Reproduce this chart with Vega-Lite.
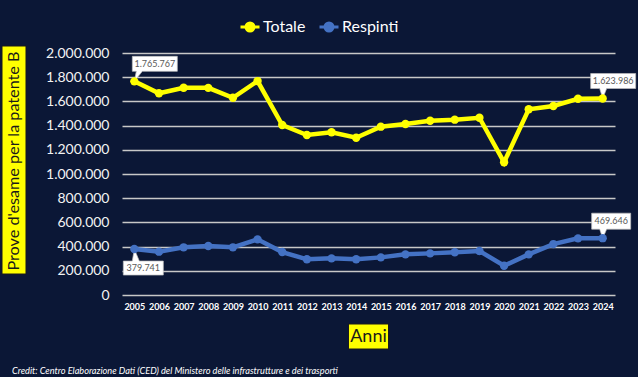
{
  "$schema": "https://vega.github.io/schema/vega-lite/v6.json",
  "background": "#0b1736",
  "padding": {"left": 0, "top": 16, "right": 0, "bottom": 0},
  "config": {
    "locale": {"number": {"decimal": ",", "thousands": ".", "grouping": [3], "currency": ["€", ""]}},
    "view": {"stroke": null},
    "font": "Lato",
    "legend": {"layout": {"top": {"anchor": "middle"}}}
  },
  "datasets": {
    "serie": [
      {"anno": "2005", "serie": "Totale", "valore": 1765767},
      {"anno": "2006", "serie": "Totale", "valore": 1667000},
      {"anno": "2007", "serie": "Totale", "valore": 1713000},
      {"anno": "2008", "serie": "Totale", "valore": 1712000},
      {"anno": "2009", "serie": "Totale", "valore": 1630000},
      {"anno": "2010", "serie": "Totale", "valore": 1768000},
      {"anno": "2011", "serie": "Totale", "valore": 1405000},
      {"anno": "2012", "serie": "Totale", "valore": 1322000},
      {"anno": "2013", "serie": "Totale", "valore": 1345000},
      {"anno": "2014", "serie": "Totale", "valore": 1300000},
      {"anno": "2015", "serie": "Totale", "valore": 1391000},
      {"anno": "2016", "serie": "Totale", "valore": 1413000},
      {"anno": "2017", "serie": "Totale", "valore": 1440000},
      {"anno": "2018", "serie": "Totale", "valore": 1449000},
      {"anno": "2019", "serie": "Totale", "valore": 1465000},
      {"anno": "2020", "serie": "Totale", "valore": 1097000},
      {"anno": "2021", "serie": "Totale", "valore": 1535000},
      {"anno": "2022", "serie": "Totale", "valore": 1562000},
      {"anno": "2023", "serie": "Totale", "valore": 1622000},
      {"anno": "2024", "serie": "Totale", "valore": 1623986},
      {"anno": "2005", "serie": "Respinti", "valore": 379741},
      {"anno": "2006", "serie": "Respinti", "valore": 358000},
      {"anno": "2007", "serie": "Respinti", "valore": 394000},
      {"anno": "2008", "serie": "Respinti", "valore": 405000},
      {"anno": "2009", "serie": "Respinti", "valore": 394000},
      {"anno": "2010", "serie": "Respinti", "valore": 460000},
      {"anno": "2011", "serie": "Respinti", "valore": 355000},
      {"anno": "2012", "serie": "Respinti", "valore": 295000},
      {"anno": "2013", "serie": "Respinti", "valore": 303000},
      {"anno": "2014", "serie": "Respinti", "valore": 295000},
      {"anno": "2015", "serie": "Respinti", "valore": 311000},
      {"anno": "2016", "serie": "Respinti", "valore": 336000},
      {"anno": "2017", "serie": "Respinti", "valore": 344000},
      {"anno": "2018", "serie": "Respinti", "valore": 353000},
      {"anno": "2019", "serie": "Respinti", "valore": 364000},
      {"anno": "2020", "serie": "Respinti", "valore": 242000},
      {"anno": "2021", "serie": "Respinti", "valore": 336000},
      {"anno": "2022", "serie": "Respinti", "valore": 421000},
      {"anno": "2023", "serie": "Respinti", "valore": 468000},
      {"anno": "2024", "serie": "Respinti", "valore": 469646}
    ]
  },
  "title": {
    "text": "Credit: Centro Elaborazione Dati (CED) del Ministero delle infrastrutture e dei trasporti",
    "orient": "bottom",
    "anchor": "start",
    "dx": 12,
    "offset": 16,
    "font": "Lato",
    "fontSize": 9.2,
    "fontStyle": "italic",
    "fontWeight": "normal",
    "color": "#ffffff"
  },
  "columns": 2,
  "align": "each",
  "spacing": {"row": 11, "column": 17},
  "concat": [
    {
      "width": 24,
      "height": 228,
      "data": {"values": [{"titolo": "Prove  d'esame per la patente B"}]},
      "layer": [
        {
          "mark": {"type": "point", "shape": "M-0.0877,-1.0614H0.1228V0.9386H-0.0877Z", "size": 51984, "filled": true, "fill": "#ffff00", "stroke": "#1a1a1a", "strokeWidth": 1, "opacity": 1},
          "encoding": {}
        },
        {
          "mark": {"type": "text", "angle": 270, "dx": 6, "dy": 2, "font": "Lato", "fontSize": 16.2, "color": "#1a1a1a"},
          "encoding": {"text": {"field": "titolo"}}
        }
      ]
    },
    {
      "width": 493,
      "height": 242,
      "data": {"name": "serie"},
      "encoding": {
        "x": {
          "field": "anno",
          "type": "ordinal",
          "scale": {"type": "point", "padding": 0.5},
          "axis": {"title": null, "labelAngle": 0, "labelFontSize": 9, "labelFontWeight": "bold", "labelColor": "#ffffff", "labelFont": "Lato", "domain": false, "ticks": false, "grid": false, "labelPadding": 7}
        },
        "y": {
          "field": "valore",
          "type": "quantitative",
          "scale": {"domain": [0, 2000000]},
          "axis": {
            "title": null,
            "values": [0, 200000, 400000, 600000, 800000, 1000000, 1200000, 1400000, 1600000, 1800000, 2000000],
            "format": ",d",
            "labelFontSize": 14,
            "labelColor": "#f2f2f2",
            "labelFont": "Lato",
            "domain": false,
            "ticks": false,
            "labelPadding": 13,
            "gridColor": "#c8c8c8",
            "gridWidth": 1.5
          }
        }
      },
      "layer": [
        {
          "mark": {"type": "line", "strokeWidth": 4.5},
          "encoding": {
            "color": {
              "field": "serie",
              "type": "nominal",
              "scale": {"domain": ["Totale", "Respinti"], "range": ["#ffff00", "#4472c4"]},
              "legend": {
                "orient": "top",
                "direction": "horizontal",
                "title": null,
                "labelFontSize": 16,
                "labelColor": "#ffffff",
                "labelFont": "Lato",
                "symbolType": "M-1,0H1M0.42,0A0.42,0.42,0,1,1,-0.42,0A0.42,0.42,0,1,1,0.42,0Z",
                "symbolSize": 361,
                "symbolStrokeWidth": 3,
                "columnPadding": 7,
                "labelOffset": 2,
                "offset": 7,
                "encode": {"symbols": {"update": {"fill": {"scale": "color", "field": "value"}, "stroke": {"scale": "color", "field": "value"}}}}
              }
            }
          }
        },
        {
          "transform": [{"filter": "datum.serie == 'Totale' && datum.anno == '2005'"}],
          "mark": {"type": "point", "shape": "M-0.2,-2.5H4.3V-1H0.8L0,0L0.2,-1H-0.2Z", "size": 400, "filled": true, "fill": "#ffffff", "stroke": "#bfbfbf", "strokeWidth": 0.7, "opacity": 1}
        },
        {
          "transform": [{"filter": "datum.serie == 'Totale' && datum.anno == '2024'"}],
          "mark": {"type": "point", "shape": "M-1.2,-2.5H3.3V-1H0.4L0,0L-0.3,-1H-1.2Z", "size": 400, "filled": true, "fill": "#ffffff", "stroke": "#bfbfbf", "strokeWidth": 0.7, "opacity": 1}
        },
        {
          "transform": [{"filter": "datum.serie == 'Respinti' && datum.anno == '2024'"}],
          "mark": {"type": "point", "shape": "M-1.1,-2.5H2.8V-0.9H0.4L0,0L-0.3,-0.9H-1.1Z", "size": 400, "filled": true, "fill": "#ffffff", "stroke": "#bfbfbf", "strokeWidth": 0.7, "opacity": 1}
        },
        {
          "transform": [{"filter": "datum.serie == 'Respinti' && datum.anno == '2005'"}],
          "mark": {"type": "point", "shape": "M-1.1,1.2H-0.2L0,0L0.5,1.2H2.9V2.6H-1.1Z", "size": 400, "filled": true, "fill": "#ffffff", "stroke": "#bfbfbf", "strokeWidth": 0.7, "opacity": 1}
        },
        {
          "mark": {"type": "point", "filled": true, "size": 70, "opacity": 1},
          "encoding": {"color": {"field": "serie", "type": "nominal"}}
        },
        {
          "transform": [{"filter": "datum.serie == 'Totale' && datum.anno == '2005'"}],
          "mark": {"type": "text", "dx": 20.5, "dy": -17.5, "fontSize": 9, "font": "Lato", "color": "#595959"},
          "encoding": {"text": {"field": "valore", "type": "quantitative", "format": ",d"}}
        },
        {
          "transform": [{"filter": "datum.serie == 'Totale' && datum.anno == '2024'"}],
          "mark": {"type": "text", "dx": 10.5, "dy": -17.5, "fontSize": 9, "font": "Lato", "color": "#595959"},
          "encoding": {"text": {"field": "valore", "type": "quantitative", "format": ",d"}}
        },
        {
          "transform": [{"filter": "datum.serie == 'Respinti' && datum.anno == '2024'"}],
          "mark": {"type": "text", "dx": 8.5, "dy": -17, "fontSize": 9, "font": "Lato", "color": "#595959"},
          "encoding": {"text": {"field": "valore", "type": "quantitative", "format": ",d"}}
        },
        {
          "transform": [{"filter": "datum.serie == 'Respinti' && datum.anno == '2005'"}],
          "mark": {"type": "text", "dx": 9, "dy": 19, "fontSize": 9, "font": "Lato", "color": "#595959"},
          "encoding": {"text": {"field": "valore", "type": "quantitative", "format": ",d"}}
        }
      ]
    },
    {
      "width": 24,
      "height": 25,
      "data": {"values": []},
      "mark": "text",
      "encoding": {}
    },
    {
      "width": 493,
      "height": 25,
      "data": {"values": [{"titolo": "Anni"}]},
      "layer": [
        {
          "mark": {"type": "point", "shape": "M-1.6,-1H1.6V1H-1.6Z", "size": 625, "filled": true, "fill": "#ffff00", "stroke": "#1a1a1a", "strokeWidth": 1, "opacity": 1},
          "encoding": {}
        },
        {
          "mark": {"type": "text", "font": "Lato", "fontSize": 18, "color": "#1a1a1a"},
          "encoding": {"text": {"field": "titolo"}}
        }
      ]
    }
  ]
}
